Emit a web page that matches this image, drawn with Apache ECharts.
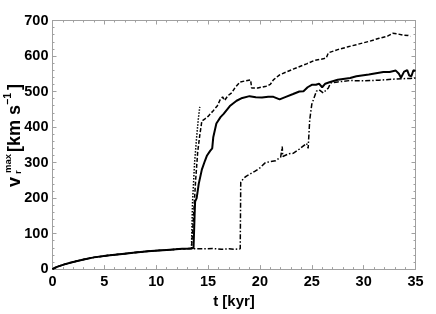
<!DOCTYPE html>
<html>
<head>
<meta charset="utf-8">
<script src="https://cdn.jsdelivr.net/npm/echarts@6/dist/echarts.min.js"></script>
<style>html,body{margin:0;padding:0;background:#fff;}#c{width:436px;height:314px;}</style>
</head>
<body>
<div id="c"></div>
<script>
// x ticks / y ticks
const xTicks = [0, 5, 10, 15, 20, 25, 30, 35];
const yTicks = [0, 100, 200, 300, 400, 500, 600, 700];

// shared early growth phase
const tEarly = [0, 0.2, 0.5, 1, 1.7, 3, 4, 5.3, 6.5, 8, 9.5, 11, 12.5, 13.4];
const vEarly = [0, 3, 7, 12, 18, 27, 33, 38, 42, 47, 51, 54, 57, 58];

// solid series
const solidT = [13.6, 13.7, 13.75, 13.9, 14.1, 14.4, 14.7, 14.9, 15.2, 15.4, 15.5, 15.8, 16.2, 16.5, 17.1, 17.75, 18.3, 19.0, 19.6, 20.2, 20.8, 21.3, 21.9, 22.5, 23.2, 23.8, 24.2, 24.6, 25.0, 25.4, 25.7, 26.0, 26.3, 26.7, 27.5, 28.7, 29.3, 30.5, 31.9, 32.5, 33.1, 33.4, 33.6, 33.9, 34.2, 34.4, 34.6, 34.8, 35];
const solidV = [60, 150, 190, 200, 240, 280, 305, 320, 333, 340, 371, 410, 428, 437, 459, 474, 482, 487, 484, 483, 485, 485, 478, 485, 493, 500, 501, 512, 519, 519, 522, 512, 522, 526, 533, 538, 543, 548, 555, 555, 559, 550, 539, 556, 560, 545, 543, 560, 558];

// long-dashed series
const dashT = [13.5, 13.6, 13.8, 14.0, 14.2, 14.4, 14.7, 15.0, 15.5, 15.9, 16.15, 16.4, 16.6, 16.9, 17.3, 17.6, 18.1, 18.6, 19.1, 19.2, 19.8, 20.6, 21.0, 21.3, 21.9, 23.2, 24.5, 25.3, 26.1, 26.4, 26.6, 27.5, 28.5, 29.3, 30.5, 31.5, 32.3, 32.8, 33.3, 33.8, 34.3, 34.5];
const dashV = [60, 150, 250, 330, 377, 417, 423, 430, 446, 460, 476, 485, 475, 488, 497, 511, 527, 530, 533, 510, 510, 515, 520, 533, 547, 563, 578, 588, 592, 595, 609, 618, 626, 632, 641, 650, 656, 664, 662, 659, 658, 655];

// dash-dot series
const ddT = [13.8, 14.5, 15.5, 16.3, 17, 17.6, 18.1, 18.15, 18.4, 18.7, 19.0, 19.5, 20.0, 20.5, 21.0, 21.5, 22.0, 22.15, 22.2, 22.3, 22.8, 23.2, 23.8, 24.5, 24.65, 24.8, 25.0, 25.45, 25.7, 26.1, 26.6, 26.8, 27.5, 28.7, 30.0, 31.5, 33.0, 34.5, 35];
const ddV = [57, 57, 58, 56, 57, 56, 57, 244, 255, 262, 267, 275, 285, 299, 303, 305, 315, 345, 317, 322, 325, 326, 338, 354, 340, 420, 464, 501, 505, 496, 510, 524, 527, 531, 530, 532, 535, 537, 538];

// dotted series
const dotT = [13.4, 13.5, 13.7, 13.9, 14.05, 14.2];
const dotV = [58, 188, 300, 372, 420, 457];

const pairs = (t, v) => t.map((x, i) => [x, v[i]]);
const early = pairs(tEarly, vEarly);

const FONT = '"Liberation Sans", Arial, Helvetica, sans-serif';
const frame = '#a0a0a0';

function xAx(top) {
  return {
    type: 'value', min: xTicks[0], max: xTicks[xTicks.length - 1], interval: 5,
    position: top ? 'top' : 'bottom',
    axisLine: { show: true, onZero: false, lineStyle: { color: frame, width: 1 } },
    axisTick: { show: true, inside: true, length: 4, lineStyle: { color: frame } },
    minorTick: { show: true, splitNumber: 5, length: 2, lineStyle: { color: frame } },
    splitLine: { show: false },
    axisLabel: { show: !top, color: '#000', fontFamily: FONT, fontWeight: 'bold', fontSize: 14.5, margin: 5 },
    name: top ? '' : 't [kyr]', nameLocation: 'middle', nameGap: 23,
    nameTextStyle: { color: '#000', fontFamily: FONT, fontWeight: 'bold', fontSize: 15 }
  };
}
function yAx(right) {
  return {
    type: 'value', min: yTicks[0], max: yTicks[yTicks.length - 1], interval: 100,
    position: right ? 'right' : 'left',
    axisLine: { show: true, onZero: false, lineStyle: { color: frame, width: 1 } },
    axisTick: { show: true, inside: true, length: 4, lineStyle: { color: frame } },
    minorTick: { show: true, splitNumber: 5, length: 2, lineStyle: { color: frame } },
    splitLine: { show: false },
    axisLabel: { show: !right, color: '#000', fontFamily: FONT, fontWeight: 'bold', fontSize: 14.5, margin: 4 }
  };
}

const tf = (size) => 'bold ' + size + 'px ' + FONT;
function txt(s, x, y, size) {
  return { type: 'text', style: { text: s, x: x, y: y, font: tf(size), fill: '#000', textAlign: 'left', textVerticalAlign: 'middle', align: 'left', verticalAlign: 'middle' } };
}

const chart = echarts.init(document.getElementById('c'), null, { renderer: 'canvas' });
chart.setOption({
  animation: false,
  backgroundColor: '#fff',
  grid: { left: 52.5, right: 20.5, top: 20.5, bottom: 39 },
  xAxis: [xAx(false), xAx(true)],
  yAxis: [yAx(false), yAx(true)],
  graphic: [{
    type: 'group', x: 14.6, y: 187, rotation: Math.PI / 2,
    children: [
      txt('v', 0, 0, 18),
      txt('max', 14, -6, 9.5),
      txt('r', 13, 3.5, 9.5),
      txt('[km s', 35, 0, 18),
      txt('\u22121', 82, -6, 10.5),
      txt(']', 97, 0, 18)
    ]
  }],
  series: [
    { type: 'line', data: early.concat(pairs(ddT, ddV)), showSymbol: false, lineStyle: { color: '#000', width: 1.5, type: [5, 2, 1.5, 2] }, z: 2 },
    { type: 'line', data: early.concat(pairs(dashT, dashV)), showSymbol: false, lineStyle: { color: '#000', width: 1.5, type: [4, 2] }, z: 2 },
    { type: 'line', data: pairs(dotT, dotV), showSymbol: false, lineStyle: { color: '#000', width: 1.5, type: [1.5, 1.5] }, z: 2 },
    { type: 'line', data: early.concat(pairs(solidT, solidV)), showSymbol: false, lineStyle: { color: '#000', width: 2 }, z: 3 }
  ]
});
</script>
</body>
</html>
